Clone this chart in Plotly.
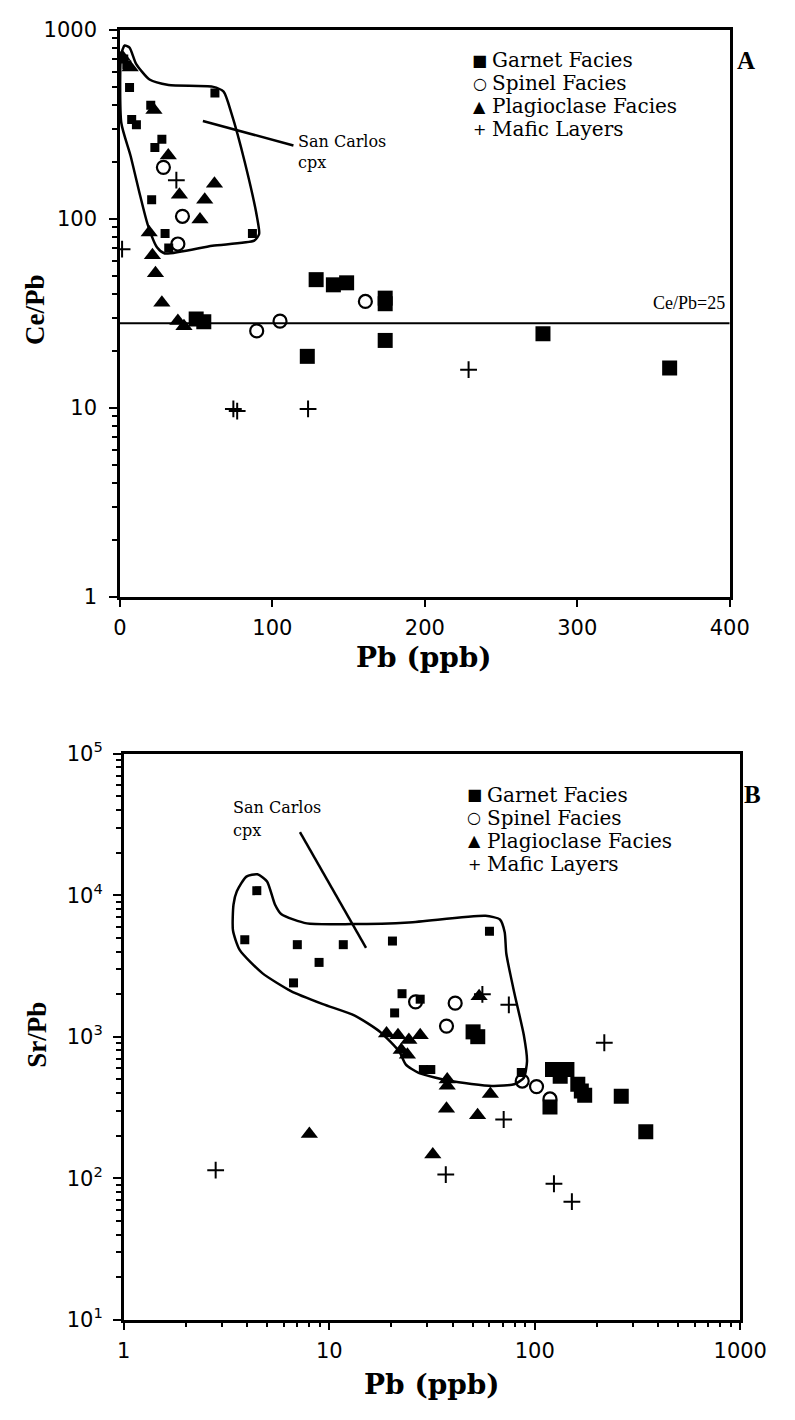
import plotly.graph_objects as go

W, H = 795, 1420

# ---------------- Panel A: Ce/Pb vs Pb (ppb) ----------------
a_garnet_pb = [50, 55, 128.7, 140, 148.7, 174, 174, 122.9, 174, 277.5, 360.6]
a_garnet_cepb = [29.5, 28.5, 47.6, 44.7, 45.8, 38, 35.5, 18.7, 22.7, 24.6, 16.2]

a_sc_pb = [2.5, 4.5, 6.3, 7.7, 10.8, 20.2, 27.5, 22.9, 62.3, 20.8, 29.6, 32, 86.9]
a_sc_cepb = [700, 650, 494, 335, 314, 399, 263, 238, 463, 126, 83.5, 70, 83.5]

a_spinel_pb = [28.5, 41, 38, 89.7, 105, 161]
a_spinel_cepb = [187, 103, 73.5, 25.5, 28.7, 36.5]

a_plag_pb = [1.5, 6.7, 22.3, 31.7, 39, 62, 55.6, 52.5, 19.2, 21.3, 23.3, 27.5, 38, 42]
a_plag_cepb = [720, 632, 376, 216, 134, 153, 126, 99, 84.5, 64, 51.4, 35.9, 28.8, 27]

a_mafic_pb = [1.4, 37, 74.4, 76.9, 123.4, 228.7]
a_mafic_cepb = [69, 160, 9.85, 9.6, 9.85, 15.9]

a_env_pb = [0.8, 3.1, 6.3, 10.6, 19.4, 31.9, 60.6, 68, 73.1, 81.9, 90, 91.3, 88.1,
            60.6, 29.4, 24.4, 18.1, 13.1, 6.9, 0.9, 0.8]
a_env_cepb = [741, 825, 805, 660, 545, 510, 500, 470, 362, 199, 101, 83, 76.5,
              72, 65.5, 70.4, 93.7, 134, 216, 321, 741]

a_ref_pb = [0, 400]
a_ref_cepb = [28, 28]

a_pointer_pb = [54.4, 113.8]
a_pointer_cepb = [329, 244]

# ---------------- Panel B: Sr/Pb vs Pb (ppb) ----------------
b_garnet_pb = [50.1, 52.8, 122, 143.4, 133, 168.5, 162, 175, 118.6, 263.6, 347]
b_garnet_srpb = [1082, 1000, 586, 586, 526, 414, 461, 385, 318, 379, 213]

b_sc_pb = [4.44, 3.88, 6.99, 11.7, 8.92, 6.7, 20.3, 22.6, 20.8, 60.2, 28.7, 31.2, 86, 27.7]
b_sc_srpb = [10770, 4842, 4470, 4470, 3350, 2400, 4742, 2013, 1472, 5560, 586, 586, 558, 1841]

b_spinel_pb = [26.3, 41, 37.2, 86.9, 102, 118.6]
b_spinel_srpb = [1763, 1726, 1188, 486, 444, 363]

b_plag_pb = [53.6, 19.0, 21.6, 24.4, 27.7, 22.4, 24, 37.5, 37.5, 60.8, 37.2, 52.7, 31.9, 8]
b_plag_srpb = [1932, 1052, 1023, 946, 1023, 805, 745, 499, 450, 393, 309, 278, 147, 205]

b_mafic_pb = [55.6, 74.8, 218, 70.6, 2.8, 36.9, 124, 151.6]
b_mafic_srpb = [1991, 1679, 906, 260, 114, 106, 91.4, 68.3]

b_env_pb = [4.47, 4.98, 5.44, 5.85, 7.78, 12.8, 24.4, 57.6, 67.7, 71.4, 72.7, 79.5, 88.5,
            91.7, 88.5, 79.5, 61.9, 38.9, 27.2, 23.6, 21.9, 17.7, 13.3, 9.31, 6.51, 4.72,
            3.67, 3.40, 3.42, 3.55, 3.95, 4.47]
b_env_srpb = [14040, 12500, 8600, 7330, 6320, 6250, 6420, 7145, 6735, 5473, 3870, 2045, 1024,
              669, 513, 461, 449, 486, 556, 634, 785, 1080, 1410, 1699, 2101, 2813,
              4087, 5625, 8600, 10650, 13530, 14040]

b_pointer_pb = [7.2, 15.1]
b_pointer_srpb = [27850, 4240]

legend_names = ["Garnet Facies", "Spinel Facies", "Plagioclase Facies", "Mafic Layers"]
legend_syms = ["\u25A0", "\u25CB", "\u25B2", "+"]

decades_a = [1, 10, 100]
decades_bx = [1, 10, 100]
decades_by = [10, 100, 1000, 10000]

# ---------------- figure ----------------
BLACK = "black"
fig = go.Figure()


def px_x(p):
    return p / W


def px_y(p):
    return 1 - p / H


def add_panel(xa, ya, sc, gar, spi, pla, maf, env, ref=None, pointer=None):
    fig.add_trace(go.Scatter(x=env[0], y=env[1], mode="lines", xaxis=xa, yaxis=ya,
                             line=dict(color=BLACK, width=2.5, shape="spline", smoothing=0.6),
                             showlegend=False, hoverinfo="skip"))
    if ref is not None:
        fig.add_trace(go.Scatter(x=ref[0], y=ref[1], mode="lines", xaxis=xa, yaxis=ya,
                                 line=dict(color=BLACK, width=2), showlegend=False))
    fig.add_trace(go.Scatter(x=pointer[0], y=pointer[1], mode="lines", xaxis=xa, yaxis=ya,
                             line=dict(color=BLACK, width=2.5), showlegend=False))
    fig.add_trace(go.Scatter(x=sc[0], y=sc[1], mode="markers", xaxis=xa, yaxis=ya,
                             name="San Carlos cpx",
                             marker=dict(symbol="square", size=9, color=BLACK), showlegend=False))
    fig.add_trace(go.Scatter(x=gar[0], y=gar[1], mode="markers", xaxis=xa, yaxis=ya,
                             name="Garnet Facies",
                             marker=dict(symbol="square", size=15, color=BLACK), showlegend=False))
    fig.add_trace(go.Scatter(x=spi[0], y=spi[1], mode="markers", xaxis=xa, yaxis=ya,
                             name="Spinel Facies",
                             marker=dict(symbol="circle-open", size=13, color=BLACK,
                                         line=dict(width=2.2, color=BLACK)), showlegend=False))
    fig.add_trace(go.Scatter(x=pla[0], y=pla[1], mode="markers", xaxis=xa, yaxis=ya,
                             name="Plagioclase Facies",
                             marker=dict(symbol="triangle-up", size=15, color=BLACK), showlegend=False))
    fig.add_trace(go.Scatter(x=maf[0], y=maf[1], mode="markers", xaxis=xa, yaxis=ya,
                             name="Mafic Layers",
                             marker=dict(symbol="cross-thin", size=12, color=BLACK,
                                         line=dict(width=2, color=BLACK)), showlegend=False))


add_panel("x", "y", (a_sc_pb, a_sc_cepb), (a_garnet_pb, a_garnet_cepb),
          (a_spinel_pb, a_spinel_cepb), (a_plag_pb, a_plag_cepb), (a_mafic_pb, a_mafic_cepb),
          (a_env_pb, a_env_cepb), ref=(a_ref_pb, a_ref_cepb), pointer=(a_pointer_pb, a_pointer_cepb))
add_panel("x2", "y2", (b_sc_pb, b_sc_srpb), (b_garnet_pb, b_garnet_srpb),
          (b_spinel_pb, b_spinel_srpb), (b_plag_pb, b_plag_srpb), (b_mafic_pb, b_mafic_srpb),
          (b_env_pb, b_env_srpb), pointer=(b_pointer_pb, b_pointer_srpb))


def minor_vals(decs):
    return [d * k for d in decs for k in range(2, 10)]


def minor(decs):
    return dict(tickvals=minor_vals(decs), ticks="outside", ticklen=5, tickwidth=1.5,
                tickcolor=BLACK, showgrid=False)


tickfont = dict(family="DejaVu Sans", size=21, color=BLACK)
axis_common = dict(showgrid=False, zeroline=False, showline=True, linecolor=BLACK, linewidth=2.5,
                   mirror=True, ticks="outside", tickcolor=BLACK, tickwidth=2, ticklen=8,
                   tickfont=tickfont)

fig.update_layout(
    width=W, height=H, margin=dict(l=0, r=0, t=0, b=0),
    paper_bgcolor="white", plot_bgcolor="white", showlegend=False,
    xaxis=dict(domain=[px_x(118), px_x(755)], range=[0, 400], tickvals=[0, 100, 200, 300, 400],
               anchor="y", ticklabelstandoff=2, **axis_common),
    yaxis=dict(domain=[px_y(593), px_y(15)], type="log", range=[0, 3], anchor="x",
               tickvals=[1, 10, 100, 1000], ticktext=["1", "10", "100", "1000"],
               ticklabelstandoff=8, minor=minor(decades_a), **axis_common),
    xaxis2=dict(domain=[px_x(122), px_x(766)], type="log", range=[0, 3], anchor="y2",
                tickvals=[1, 10, 100, 1000], ticktext=["1", "10", "100", "1000"],
                ticklabelstandoff=2, minor=minor(decades_bx), **axis_common),
    yaxis2=dict(domain=[px_y(1330), px_y(753)], type="log", range=[1, 5], anchor="x2",
                tickvals=[10, 100, 1000, 10000, 100000],
                ticktext=["10<sup>1</sup>", "10<sup>2</sup>", "10<sup>3</sup>", "10<sup>4</sup>", "10<sup>5</sup>"],
                ticklabelstandoff=6, minor=minor(decades_by), **axis_common),
)

serif = "DejaVu Serif"
ann = []


def text(x, y, s, size, xanchor="left", bold=False, angle=0, family=serif):
    ann.append(dict(x=px_x(x), y=px_y(y), xref="paper", yref="paper",
                    text=("<b>%s</b>" % s) if bold else s,
                    showarrow=False, xanchor=xanchor, yanchor="middle", textangle=angle,
                    font=dict(family=family, size=size, color=BLACK)))


# axis titles
text(436, 655, "Pb (ppb)", 28, xanchor="center", bold=True)
text(30, 300, "Ce/Pb", 27, xanchor="center", bold=True, angle=-90, family="Liberation Serif")
text(444, 1396, "Pb (ppb)", 28, xanchor="center", bold=True)
text(32, 1040, "Sr/Pb", 27, xanchor="center", bold=True, angle=-90, family="Liberation Serif")

# panel letters
text(772, 46, "A", 25, xanchor="center", bold=True, family="Liberation Serif")
text(779, 795, "B", 25, xanchor="center", bold=True, family="Liberation Serif")

# legends (manual, tight spacing)
for i, (sym, name) in enumerate(zip(legend_syms, legend_names)):
    ya = 46 + 23.5 * i
    text(494, ya, sym, 16, xanchor="center", family="DejaVu Sans")
    text(505, ya, name, 20)
    yb = 795 + 23.5 * i
    text(488, yb, sym, 16, xanchor="center", family="DejaVu Sans")
    text(499, yb, name, 20)

# line labels
text(752, 294, "Ce/Pb=25", 18, xanchor="right", family="Liberation Serif")
text(302, 129, "San Carlos", 16)
text(302, 150, "cpx", 16)
text(234, 808, "San Carlos", 16)
text(234, 831, "cpx", 16)

fig.update_layout(annotations=ann)
fig.write_html("out.html")
